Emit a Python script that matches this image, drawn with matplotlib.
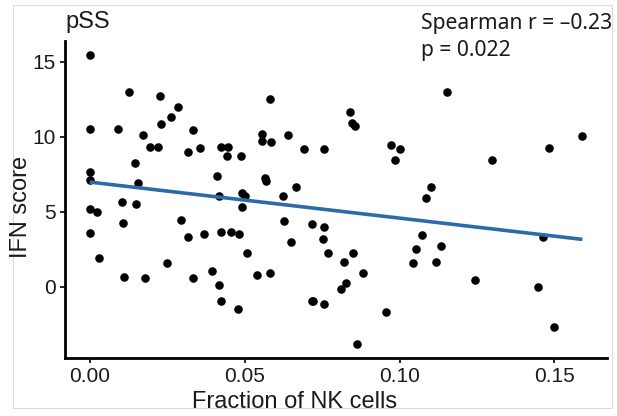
import numpy as np
import matplotlib
matplotlib.use("Agg")
import matplotlib.pyplot as plt
from matplotlib.patches import Rectangle

nk_fraction = [
    0.0, 0.0128, 0.0226, 0.0286, 0.0261, 0.0231, 0.0, 0.0090, 0.0334, 0.0172,
    0.0195, 0.0220, 0.0317, 0.0356, 0.0424, 0.0448, 0.0444, 0.0487, 0.0146, 0.0,
    0.0, 0.0155, 0.0412, 0.0419, 0.0491, 0.0500, 0.0103, 0.0581, 0.0840, 0.0848,
    0.0855, 0.0557, 0.0639, 0.0556, 0.0586, 0.0691, 0.0756, 0.0971, 0.1002, 0.0986,
    0.0566, 0.0569, 0.0666, 0.0624, 0.1153, 0.1590, 0.1299, 0.1481, 0.1101, 0.1087,
    0.1074, 0.1054, 0.1133, 0.1045, 0.1117, 0.1243, 0.1464, 0.1446, 0.1498, 0.0955,
    0.0149, 0.0002, 0.0024, 0.0109, 0.0, 0.0295, 0.0316, 0.0368, 0.0423, 0.0455,
    0.0483, 0.0507, 0.0031, 0.0249, 0.0112, 0.0178, 0.0335, 0.0394, 0.0416, 0.0423,
    0.0479, 0.0492, 0.0627, 0.0717, 0.0757, 0.0753, 0.0650, 0.0769, 0.0850, 0.0820,
    0.0881, 0.0541, 0.0582, 0.0828, 0.0812, 0.0718, 0.0722, 0.0756, 0.0863,
]
ifn_score = [
    15.47, 12.98, 12.71, 11.98, 11.31, 10.89, 10.53, 10.53, 10.44, 10.16,
    9.31, 9.33, 9.02, 9.24, 9.33, 9.33, 8.73, 8.75, 8.27, 7.69,
    7.11, 6.93, 7.38, 6.07, 6.24, 6.09, 5.69, 12.51, 11.67, 10.93,
    10.71, 10.20, 10.16, 9.71, 9.67, 9.20, 9.20, 9.44, 9.22, 8.49,
    7.27, 7.09, 6.67, 6.09, 13.02, 10.07, 8.49, 9.29, 6.64, 5.95,
    3.49, 2.53, 2.71, 1.62, 1.69, 0.44, 3.31, -0.02, -2.67, -1.67,
    5.53, 5.18, 5.00, 4.27, 3.60, 4.49, 3.31, 3.56, 3.69, 3.64,
    3.56, 2.27, 1.96, 1.62, 0.67, 0.56, 0.58, 1.09, 0.11, -0.93,
    -1.47, 5.31, 4.40, 4.22, 4.02, 3.18, 2.98, 2.27, 2.24, 1.67,
    0.91, 0.78, 0.91, 0.27, -0.13, -0.93, -0.91, -1.11, -3.78,
]
x_ticks = [0.00, 0.05, 0.10, 0.15]
x_tick_labels = ["0.00", "0.05", "0.10", "0.15"]
y_ticks = [0, 5, 10, 15]
y_tick_labels = ["0", "5", "10", "15"]
panel_title = "pSS"
stat_lines = ["Spearman r = \u20130.23", "p = 0.022"]

x = np.array(nk_fraction)
y = np.array(ifn_score)

W, H = 617, 416
fig = plt.figure(figsize=(W / 100, H / 100), dpi=100)
fig.patch.set_facecolor("white")

# faint frame around the figure
fig.add_artist(Rectangle((13 / W, 1 - 408 / H), (612 - 13) / W, (408 - 5) / H,
                         transform=fig.transFigure, fill=False,
                         edgecolor="#dcdcdc", lw=0.8))

ax = fig.add_axes([65 / W, 58 / H, 542 / W, 317.5 / H])

ax.scatter(x, y, s=38, color="black", zorder=3, linewidths=0)

slope, intercept = np.polyfit(x, y, 1)
xs = np.array([x.min(), x.max()])
ax.plot(xs, intercept + slope * xs, color="#2f6aa8", lw=2.6, zorder=4,
        solid_capstyle="butt")

xr = x.max() - x.min()
yr = y.max() - y.min()
ax.set_xlim(x.min() - 0.05 * xr, x.max() + 0.05 * xr)
ax.set_ylim(y.min() - 0.05 * yr, y.max() + 0.05 * yr)

ax.set_xticks(x_ticks)
ax.set_xticklabels(x_tick_labels)
ax.set_yticks(y_ticks)
ax.set_yticklabels(y_tick_labels)

for s in ["top", "right"]:
    ax.spines[s].set_visible(False)
for s in ["left", "bottom"]:
    ax.spines[s].set_linewidth(2.0)
    ax.spines[s].set_color("black")

ax.tick_params(axis="both", direction="out", length=3.5, width=1.2,
               color="black", labelcolor="#1a1a1a", labelsize=15,
               pad=3)
for lab in ax.get_xticklabels() + ax.get_yticklabels():
    lab.set_family("Liberation Sans")

fig.text(295 / W, 1 - 408 / H, "Fraction of NK cells", ha="center",
         va="baseline", fontsize=17, family="Liberation Sans", color="#1a1a1a")
fig.text(21 / W, 1 - 207 / H, "IFN score", ha="center", va="center",
         rotation=90, fontsize=17, family="Liberation Sans", color="#1a1a1a")
fig.text(65 / W, 1 - 28 / H, panel_title, ha="left", va="baseline",
         fontsize=17, family="Liberation Sans", color="#1a1a1a")
stat_kw = dict(ha="left", va="baseline", fontsize=15.2, family="Noto Sans",
               stretch="normal", weight="normal", color="#1a1a1a")
fig.text(421 / W, 1 - 29 / H, stat_lines[0], **stat_kw)
fig.text(421 / W, 1 - 56 / H, stat_lines[1], **stat_kw)

fig.savefig("out.png", dpi=100)
